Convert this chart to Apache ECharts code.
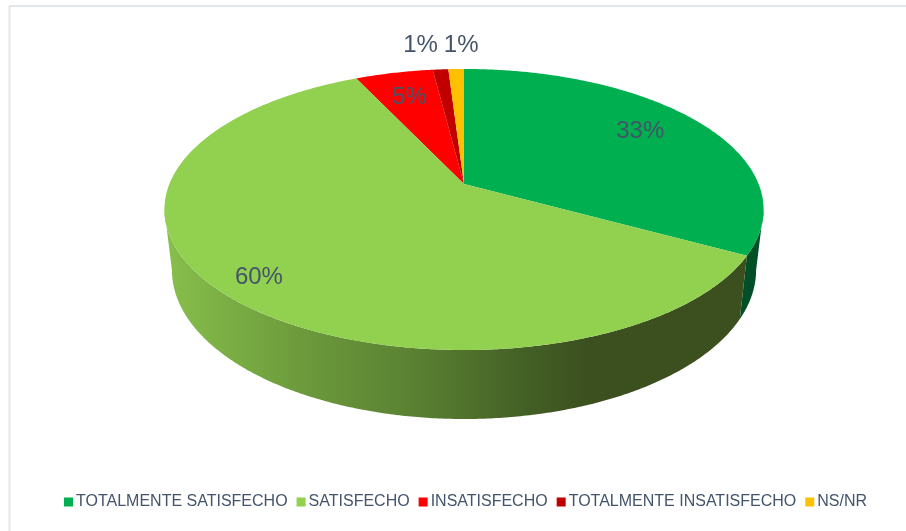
<!DOCTYPE html>
<html>
<head>
<meta charset="utf-8">
<style>html,body{margin:0;padding:0;background:#fff}#chart{width:906px;height:531px}</style>
<script src="https://cdn.jsdelivr.net/npm/echarts@6/dist/echarts.min.js"></script>
</head>
<body>
<div id="chart"></div>
<script>
// Survey answers, in percent, clockwise from twelve o'clock
const categories = ['TOTALMENTE SATISFECHO', 'SATISFECHO', 'INSATISFECHO', 'TOTALMENTE INSATISFECHO', 'NS/NR'];
const values = [33, 60, 5, 1, 1];
const colors = ['#00b050', '#92d050', '#ff0000', '#c00000', '#ffc000'];

// Perspective disc: screen position of the hub, projected radii, foreshortening
const hub = { x: 464, y: 184 };
const radiusX = 294.6, radiusY = 135.9, tilt = 0.1815;
// Lower rim of the disc, relative to the upper one
const rim = { y: 243, scaleX: 0.975, scaleY: 1.06 };
// Silhouette angles between which the wall faces the viewer
const wallFrom = 100.5, wallTo = 259.5;

// Label placement: fraction of the radius from the hub, then a small shift
const labelRadius = [0.77, 0.85, 0.75, 1.0, 1.0];
const labelShift = [[-6, -3], [-1, 5], [0, 0], [-20, -24], [5, -24]];

const total = values.reduce((a, b) => a + b, 0);
const startAngle = values.map((_, i) => values.slice(0, i).reduce((a, b) => a + b, 0) / total * 360);

function topPoint(deg, r) {
  const t = deg * Math.PI / 180, u = r * Math.sin(t), v = r * Math.cos(t), w = 1 + tilt * v;
  return [hub.x + radiusX * u / w, hub.y - radiusY * v / w];
}
function rimPoint(deg) {
  const t = deg * Math.PI / 180, u = Math.sin(t), v = Math.cos(t), w = 1 + tilt * v;
  return [hub.x + rim.scaleX * radiusX * u / w, rim.y - rim.scaleY * radiusY * v / w];
}
function arc(fn, from, to) {
  const pts = [], steps = Math.max(2, Math.ceil(Math.abs(to - from) * 2));
  for (let i = 0; i <= steps; i++) pts.push(fn(from + (to - from) * i / steps));
  return pts;
}
// Shading of the side wall, light on the left and falling off to the right
function wallFill(index) {
  if (index === 0) return '#004f27';
  return {
    type: 'linear', x: 172, y: 0, x2: 590, y2: 0, global: true,
    colorStops: [
      { offset: 0, color: '#86bd4b' },
      { offset: 0.3, color: '#6d9b3c' },
      { offset: 0.6, color: '#587f31' },
      { offset: 0.85, color: '#435f25' },
      { offset: 1, color: '#3b4f1f' }
    ]
  };
}

function renderSlice(params, api) {
  const i = params.seriesIndex;
  const from = startAngle[i], to = from + api.value(0) / total * 360;
  const children = [];
  const a = Math.max(from, wallFrom), b = Math.min(to, wallTo);
  if (b > a) {
    const pts = arc(d => topPoint(d, 1), a, b).concat(arc(rimPoint, b, a));
    children.push({ type: 'polygon', shape: { points: pts }, style: { fill: wallFill(i) } });
  }
  const face = [[hub.x, hub.y]].concat(arc(d => topPoint(d, 1), from, to));
  children.push({ type: 'polygon', shape: { points: face }, style: { fill: colors[i] } });
  return { type: 'group', children };
}

// Percentage labels sit in their own series so no slice can paint over them
function renderLabels(params, api) {
  const i = api.value(0), mid = startAngle[i] + values[i] / total * 180;
  const p = topPoint(mid, labelRadius[i]);
  return {
    type: 'text',
    style: {
      x: p[0] + labelShift[i][0], y: p[1] + labelShift[i][1],
      text: values[i] + '%', fill: '#44546a',
      font: '24px "Liberation Sans", Arial, sans-serif',
      align: 'center', verticalAlign: 'middle'
    }
  };
}

const series = categories.map((name, i) => ({
  type: 'custom', name, coordinateSystem: 'none', silent: true,
  itemStyle: { color: colors[i] },
  renderItem: renderSlice, data: [[values[i]]], z: 2 + (i < 2 ? 1 : 0)
}));
series.push({
  type: 'custom', coordinateSystem: 'none', silent: true, z: 10,
  renderItem: renderLabels, data: categories.map((_, i) => [i])
});

const chart = echarts.init(document.getElementById('chart'), null, { renderer: 'canvas' });
chart.setOption({
  animation: false,
  backgroundColor: '#ffffff',
  legend: {
    data: categories, left: 64, top: 494, padding: 0,
    icon: 'rect', itemWidth: 9, itemHeight: 9, itemGap: 9,
    textStyle: { color: '#44546a', fontFamily: '"Liberation Sans", Arial, sans-serif', fontSize: 16, padding: [0, 0, 0, -2] },
    selectedMode: false
  },
  graphic: [
    { type: 'line', shape: { x1: 9.5, y1: 6, x2: 9.5, y2: 531 }, style: { stroke: '#e1e5ec', lineWidth: 2 } },
    { type: 'line', shape: { x1: 9, y1: 6, x2: 906, y2: 6 }, style: { stroke: '#e1e5ec', lineWidth: 2 } }
  ],
  series
});
</script>
</body>
</html>
